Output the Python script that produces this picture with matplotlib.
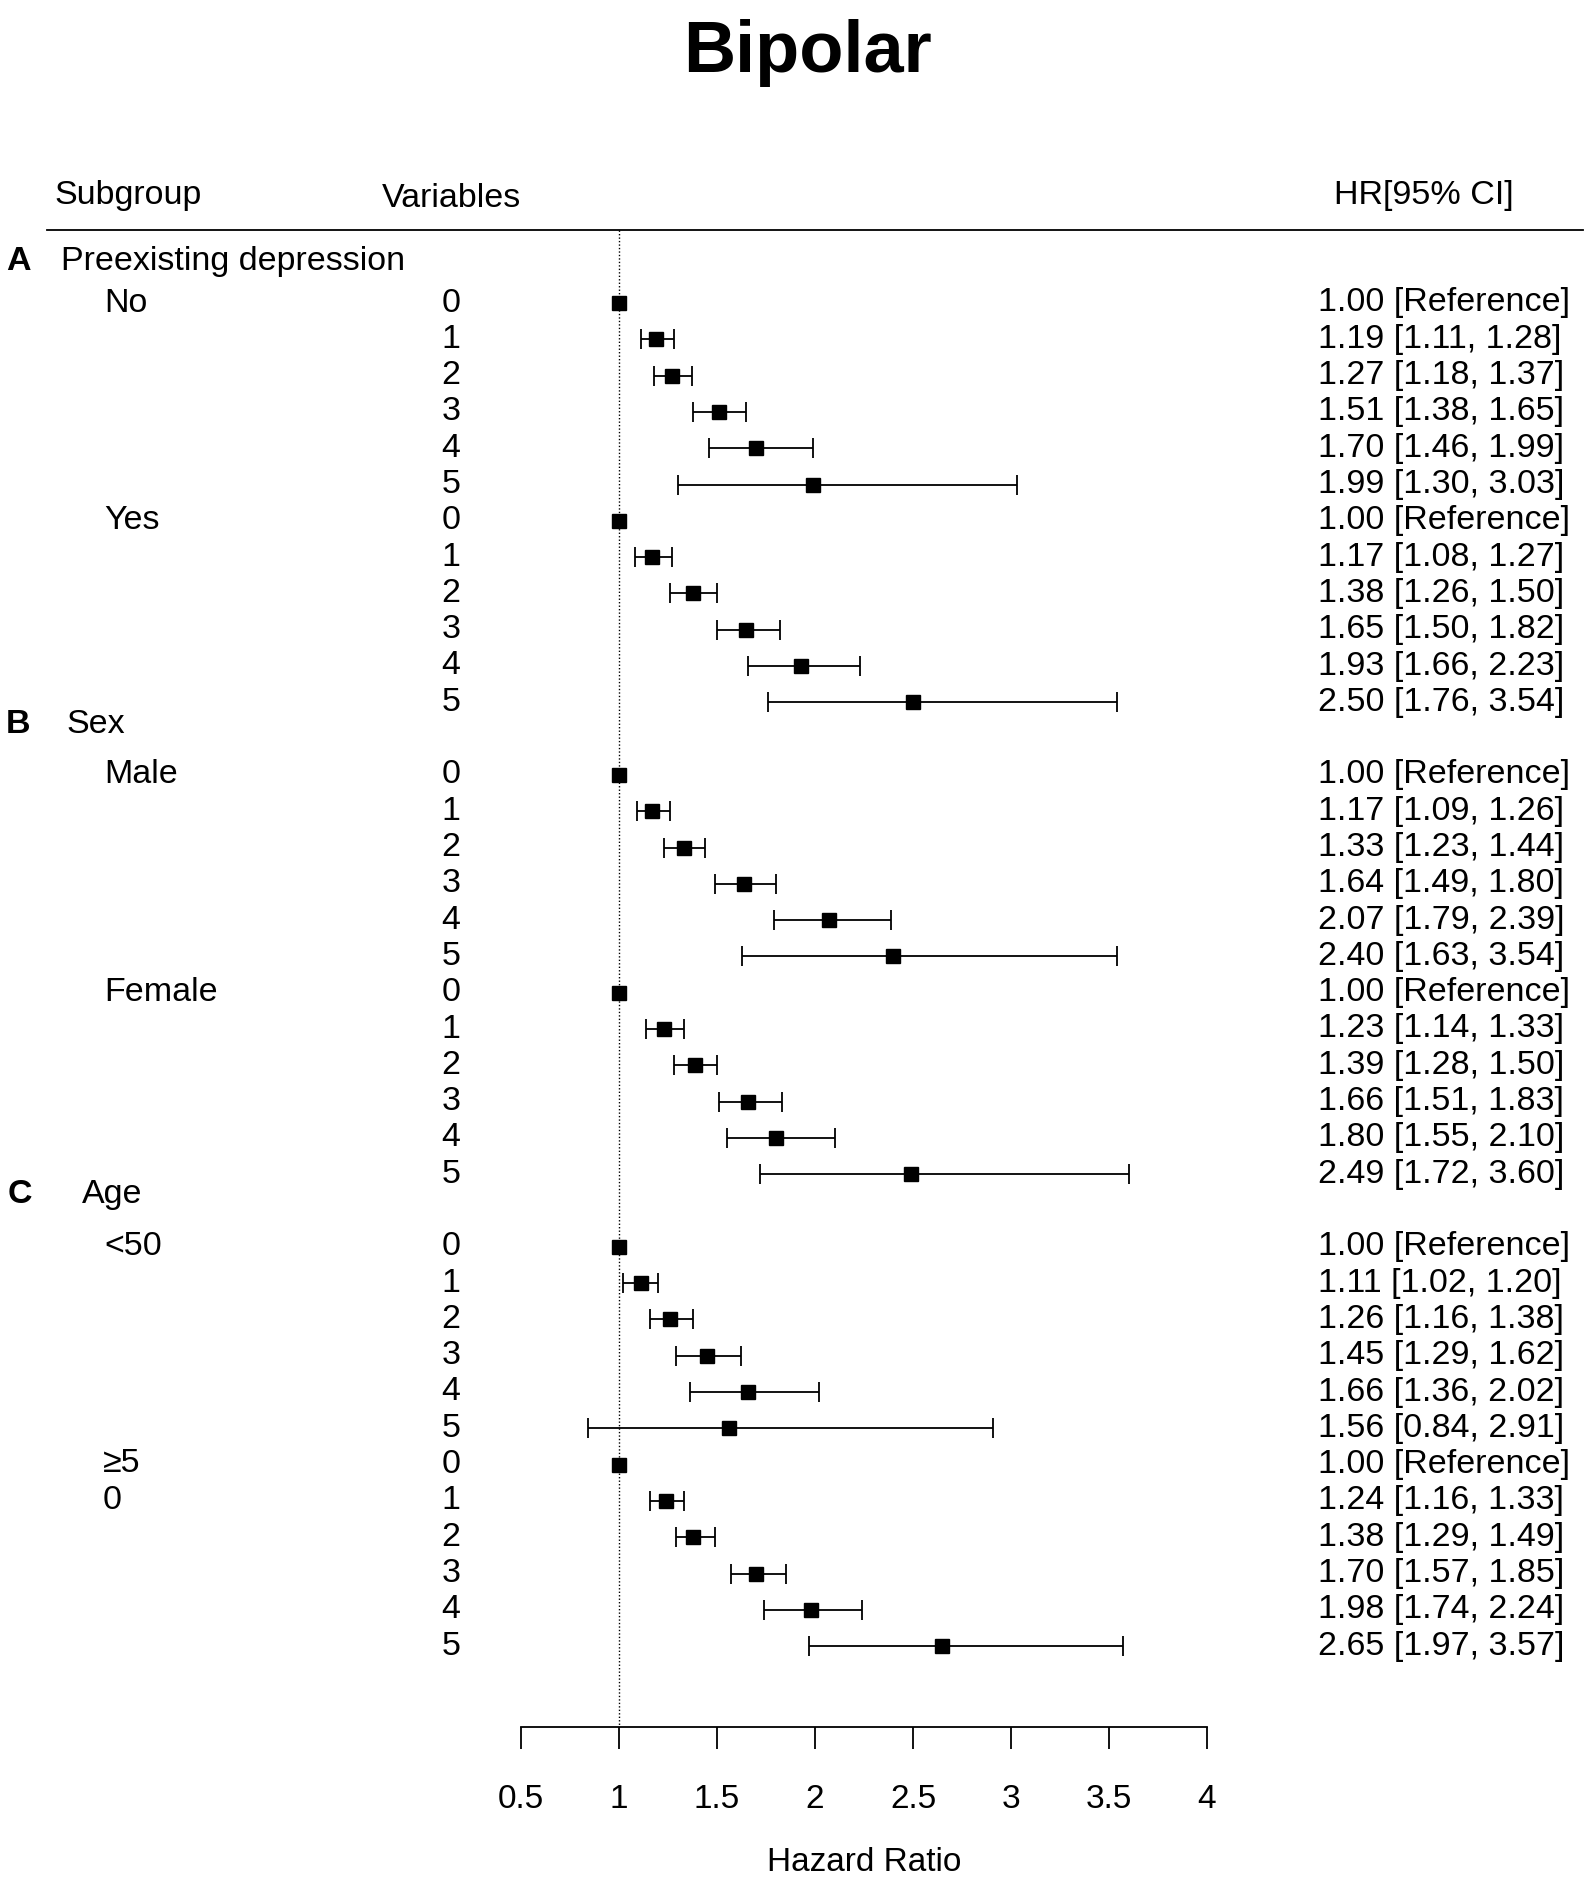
import matplotlib.pyplot as plt
import matplotlib.transforms as mtransforms
import numpy as np

plt.rcParams['font.family'] = ['Liberation Sans', 'DejaVu Sans']

# data
sections = ["Preexisting depression", "Sex", "Age"]
section_tags = ["A", "B", "C"]
subgroups = ["No", "Yes", "Male", "Female", "<50", "\u22655\n0"]
variables = ["0", "1", "2", "3", "4", "5"]

nan = np.nan
hr = [1.00, 1.19, 1.27, 1.51, 1.70, 1.99,
      1.00, 1.17, 1.38, 1.65, 1.93, 2.50,
      1.00, 1.17, 1.33, 1.64, 2.07, 2.40,
      1.00, 1.23, 1.39, 1.66, 1.80, 2.49,
      1.00, 1.11, 1.26, 1.45, 1.66, 1.56,
      1.00, 1.24, 1.38, 1.70, 1.98, 2.65]
lo = [nan, 1.11, 1.18, 1.38, 1.46, 1.30,
      nan, 1.08, 1.26, 1.50, 1.66, 1.76,
      nan, 1.09, 1.23, 1.49, 1.79, 1.63,
      nan, 1.14, 1.28, 1.51, 1.55, 1.72,
      nan, 1.02, 1.16, 1.29, 1.36, 0.84,
      nan, 1.16, 1.29, 1.57, 1.74, 1.97]
hi = [nan, 1.28, 1.37, 1.65, 1.99, 3.03,
      nan, 1.27, 1.50, 1.82, 2.23, 3.54,
      nan, 1.26, 1.44, 1.80, 2.39, 3.54,
      nan, 1.33, 1.50, 1.83, 2.10, 3.60,
      nan, 1.20, 1.38, 1.62, 2.02, 2.91,
      nan, 1.33, 1.49, 1.85, 2.24, 3.57]
xticks = [0.5, 1, 1.5, 2, 2.5, 3, 3.5, 4]
xticklabels = ["0.5", "1", "1.5", "2", "2.5", "3", "3.5", "4"]

hr = np.array(hr)
lo = np.array(lo)
hi = np.array(hi)

W, H = 1595, 1882
fig = plt.figure(figsize=(W / 100, H / 100), dpi=100)

row0 = 303.0
step = 36.3
y_axis = 1727.0
y_top = row0 - 4 * step
x0, x1 = 521.0, 1207.0
ax = fig.add_axes([x0 / W, 1 - y_axis / H, (x1 - x0) / W, (y_axis - y_top) / H])
ax.set_xlim(0.5, 4)
ax.set_ylim((y_axis - row0) / step, -4)

# row layout: 3 sections x 2 subgroups x 6 levels
rows = []
sub_rows = []
for s in range(3):
    for j in range(2):
        start = s * 13 + j * 6
        sub_rows.append(start)
        rows.extend(start + np.arange(6))
rows = np.array(rows, dtype=float)
header_rows = [-1.14, 11.6, 24.56]

ref = np.isnan(lo)
ax.errorbar(hr[~ref], rows[~ref], xerr=[hr[~ref] - lo[~ref], hi[~ref] - hr[~ref]],
            fmt='s', color='black', ms=9.5, capsize=7, elinewidth=1.3, capthick=1.3,
            clip_on=False, zorder=3)
ax.plot(hr[ref], rows[ref], 's', color='black', ms=9.5, clip_on=False, zorder=3)

ax.plot([1, 1], [-2.0, ax.get_ylim()[0]], color='black', lw=1.0, ls=(0, (1, 1.5)),
        clip_on=False, zorder=1)

for sp in ['top', 'right', 'left']:
    ax.spines[sp].set_visible(False)
ax.spines['bottom'].set_bounds(0.5, 4)
ax.spines['bottom'].set_linewidth(1.3)
ax.set_yticks([])
ax.set_xticks(xticks)
ax.set_xticklabels(xticklabels, fontsize=24)
ax.tick_params(axis='x', direction='out', length=16, width=1.3, pad=25)
ax.set_xlabel("Hazard Ratio", fontsize=24, labelpad=23)

tr = mtransforms.blended_transform_factory(fig.transFigure, ax.transData)
fs = 24.5

def fx(px):
    return px / W

# headers
fig.text(808 / W, 1 - 72 / H, "Bipolar", fontsize=52, fontweight='bold',
         ha='center', va='baseline')
ax.text(fx(54), -2.96, "Subgroup", transform=tr, fontsize=fs, ha='left', va='center')
ax.text(fx(382), -2.87, "Variables", transform=tr, fontsize=fs, ha='left', va='center')
ax.text(fx(1334), -2.96, "HR[95% CI]", transform=tr, fontsize=fs, ha='left', va='center')
ax.plot([fx(47), fx(1583)], [-2.0, -2.0], transform=tr, color='black', lw=1.3,
        clip_on=False)

tag_x = [6, 6, 8]
name_x = [61, 66, 82]
for s in range(3):
    ax.text(fx(tag_x[s]), header_rows[s], section_tags[s], transform=tr, fontsize=fs,
            fontweight='bold', ha='left', va='center')
    ax.text(fx(name_x[s]), header_rows[s], sections[s], transform=tr, fontsize=fs,
            ha='left', va='center')

for j, lab in enumerate(subgroups):
    if "\n" in lab:
        ax.text(fx(103), sub_rows[j] - 0.47, lab, transform=tr, fontsize=fs,
                ha='left', va='top', linespacing=1.29)
    else:
        ax.text(fx(104), sub_rows[j], lab, transform=tr, fontsize=fs,
                ha='left', va='center')

for k in range(len(rows)):
    ax.text(fx(451), rows[k], variables[k % 6], transform=tr, fontsize=fs,
            ha='center', va='center')
    if ref[k]:
        txt = f"{hr[k]:.2f} [Reference]"
    else:
        txt = f"{hr[k]:.2f} [{lo[k]:.2f}, {hi[k]:.2f}]"
    ax.text(fx(1318), rows[k], txt, transform=tr, fontsize=fs,
            ha='left', va='center')

fig.savefig("out.png", dpi=100)
